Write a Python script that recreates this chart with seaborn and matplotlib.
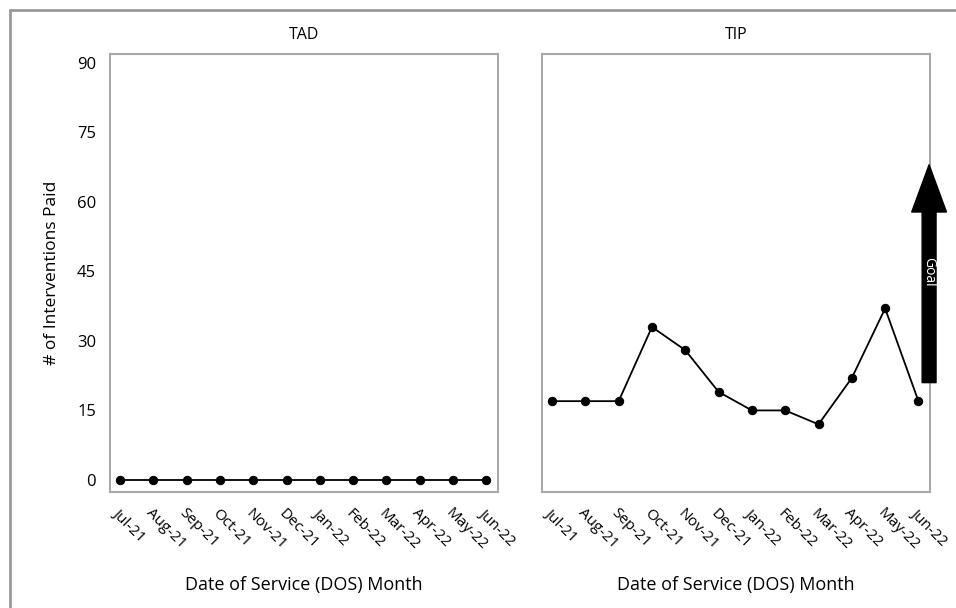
import matplotlib
matplotlib.use("Agg")
import matplotlib.pyplot as plt
from matplotlib.lines import Line2D
import pandas as pd
import seaborn as sns

months = ["Jul-21", "Aug-21", "Sep-21", "Oct-21", "Nov-21", "Dec-21",
          "Jan-22", "Feb-22", "Mar-22", "Apr-22", "May-22", "Jun-22"]
tad_paid = [0, 0, 0, 0, 0, 0, 0, 0, 0, 0, 0, 0]
tip_paid = [17, 17, 17, 33, 28, 19, 15, 15, 12, 22, 37, 17]
panels = ["TAD", "TIP"]
goal_start = 21
goal_end = 68
y_ticks = [0, 15, 30, 45, 60, 75, 90]

df = pd.DataFrame({
    "month": months * 2,
    "paid": tad_paid + tip_paid,
    "program": ["TAD"] * 12 + ["TIP"] * 12,
})
df["pos"] = df.groupby("program").cumcount()

sns.set_style("white")
plt.rcParams["font.family"] = ["Open Sans", "DejaVu Sans"]
plt.rcParams["text.color"] = "black"
plt.rcParams["axes.labelcolor"] = "black"
plt.rcParams["xtick.labelcolor"] = "black"
plt.rcParams["ytick.labelcolor"] = "black"

fig = plt.figure(figsize=(9.56, 6.08), dpi=100)
ax1 = fig.add_axes([0.1151, 0.1908, 0.4059, 0.7204])
ax2 = fig.add_axes([0.5670, 0.1908, 0.4059, 0.7204])

edge = "#a8a8a8"
for ax, name in zip([ax1, ax2], panels):
    sub = df[df["program"] == name]
    sns.lineplot(data=sub, x="pos", y="paid", ax=ax, color="black",
                 marker="o", markersize=6, linewidth=1.3,
                 markeredgecolor="black")
    ax.set_xlim(-0.3, 11.35)
    ax.set_ylim(-2.6, 91.9)
    ax.set_xticks(range(len(months)))
    ax.set_xticklabels(months, rotation=-45, ha="left", va="top",
                       rotation_mode="anchor", fontsize=11)
    ax.set_yticks(y_ticks)
    ax.tick_params(axis="both", direction="out", length=7, width=1,
                   color=edge, pad=3)
    ax.tick_params(axis="y", labelsize=12)
    ax.set_title(name, fontsize=11.5, pad=11)
    ax.set_xlabel("Date of Service (DOS) Month", fontsize=13, labelpad=16)
    for sp in ax.spines.values():
        sp.set_color(edge)
        sp.set_linewidth(1.5)

ax1.set_ylabel("# of Interventions Paid", fontsize=12.5, labelpad=12)
ax2.set_ylabel("")
ax2.tick_params(axis="y", left=False, labelleft=False)

# goal arrow on the TIP panel
ax2.annotate("", xy=(11.32, goal_end), xytext=(11.32, goal_start),
             arrowprops=dict(arrowstyle="simple,head_length=3.4,head_width=2.5,tail_width=1.0",
                             color="black", shrinkA=0, shrinkB=0),
             annotation_clip=False)
ax2.text(11.32, 45, "Goal", rotation=270, color="white", fontsize=10,
         ha="center", va="center", clip_on=False)

# outer frame lines
fig.add_artist(Line2D([10 / 956, 1], [1 - 10 / 608, 1 - 10 / 608],
                      color="#999999", linewidth=2))
fig.add_artist(Line2D([10 / 956, 10 / 956], [0, 1 - 10 / 608],
                      color="#999999", linewidth=2))

fig.savefig("out.png", dpi=100)
